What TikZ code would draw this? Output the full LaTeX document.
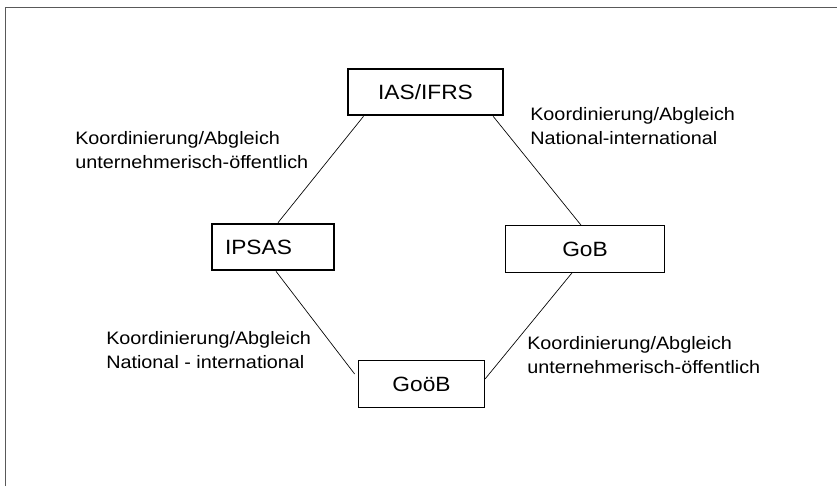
\documentclass[tikz,border=0pt]{standalone}
\usepackage{fontspec}
\setmainfont[FakeStretch=1.1]{Liberation Sans}
\usepackage{tikz}

\begin{document}
\begin{tikzpicture}[x=0.75pt,y=-0.75pt,
		norm/.style={draw, inner sep=0pt, minimum height=35pt, font=\fontsize{15.5pt}{18pt}\selectfont},
		thickbox/.style={norm, line width=1.5pt},
		thinbox/.style={norm, line width=0.8pt},
		remark/.style={anchor=north west, inner sep=0pt, align=left, font=\fontsize{13.5pt}{18pt}\selectfont}]
			\useasboundingbox (0,0) rectangle (837,486);
			\draw[line width=1.4pt, black!65] (5.5,486) -- (5.5,7.5) -- (837,7.5);
			% the four sets of rules
			\node[thickbox, minimum width=116.5pt] (ias) at (425.5,92) {IAS/IFRS\hspace{6pt}};
			\node[thickbox, text width=72pt, inner xsep=9.75pt, align=left] (ipsas) at (273,247) {IPSAS};
			\node[thinbox, minimum width=119pt] (gob) at (585,249) {GoB\hspace{6pt}};
			\node[thinbox, minimum width=94.5pt] (gooeb) at (421.5,384) {GoöB\hspace{10pt}};
			% connections
			\draw[line width=0.5pt] ([xshift=12.5pt]ias.south west) -- ([xshift=3.75pt]ipsas.north);
			\draw[line width=0.5pt] ([xshift=-8.25pt]ias.south east) -- ([xshift=-3pt]gob.north);
			\draw[line width=0.5pt] ([xshift=2.25pt]ipsas.south) -- ([xshift=-2.5pt,yshift=7.5pt]gooeb.west);
			\draw[line width=0.5pt] ([xshift=-9.75pt]gob.south) -- ([yshift=3.75pt]gooeb.east);
			% labels
			\node[remark] (tl) at (75,131) {Koordinierung/Abgleich\\unternehmerisch-öffentlich};
			\node[remark] (tr) at (530,107) {Koordinierung/Abgleich\\National-international};
			\node[remark] (bl) at (106,331) {Koordinierung/Abgleich\\National - international};
			\node[remark] (br) at (527,336) {Koordinierung/Abgleich\\unternehmerisch-öffentlich};
		\end{tikzpicture}
\end{document}
